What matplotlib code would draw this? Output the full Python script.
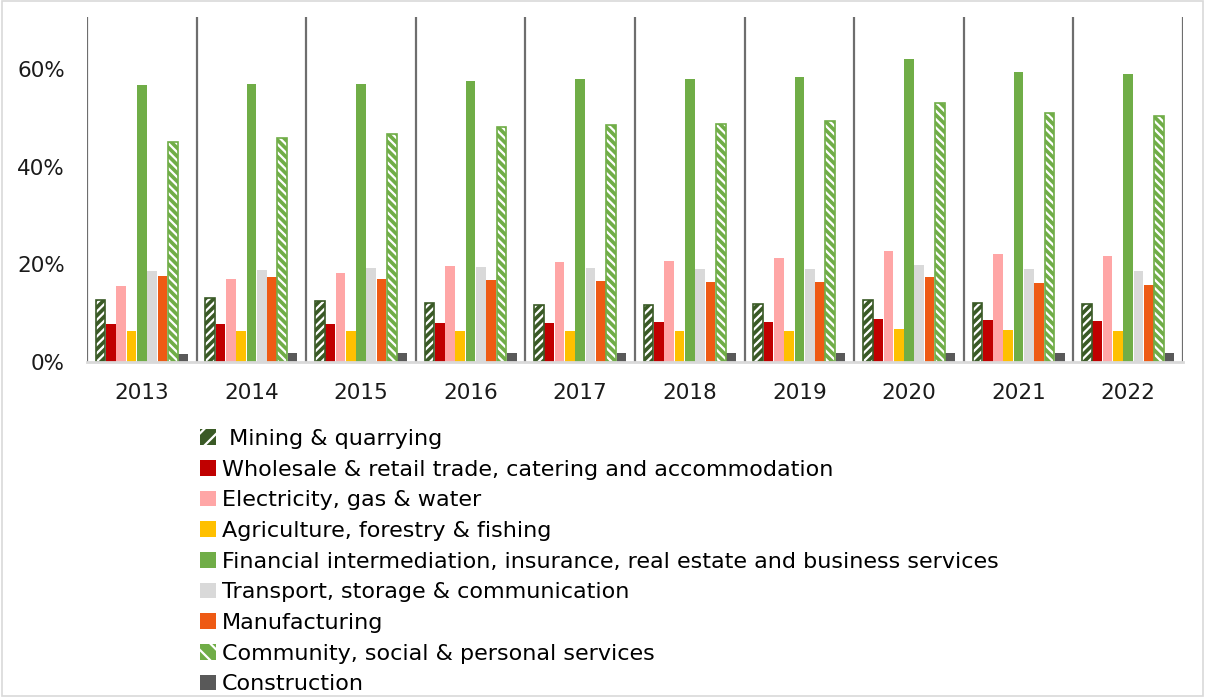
import matplotlib
matplotlib.use("Agg")
import matplotlib.pyplot as plt
import numpy as np
from matplotlib.patches import Rectangle, Patch
from matplotlib.ticker import FuncFormatter

years = ["2013", "2014", "2015", "2016", "2017", "2018", "2019", "2020", "2021", "2022"]

sectors = [
    " Mining & quarrying",
    "Wholesale & retail trade, catering and accommodation",
    "Electricity, gas & water",
    "Agriculture, forestry & fishing",
    "Financial intermediation, insurance, real estate and business services",
    "Transport, storage & communication",
    "Manufacturing",
    "Community, social & personal services",
    "Construction",
]

mining = [12.7, 13.0, 12.5, 12.0, 11.7, 11.7, 11.9, 12.7, 12.0, 11.8]
wholesale = [7.7, 7.7, 7.8, 8.0, 8.0, 8.2, 8.2, 8.9, 8.5, 8.4]
electricity = [15.6, 16.9, 18.3, 19.6, 20.5, 20.7, 21.2, 22.8, 22.0, 21.7]
agriculture = [6.3, 6.3, 6.3, 6.3, 6.3, 6.3, 6.3, 6.8, 6.6, 6.4]
financial = [56.6, 56.8, 56.9, 57.6, 57.9, 57.9, 58.4, 62.0, 59.4, 58.9]
transport = [18.6, 18.8, 19.2, 19.4, 19.3, 19.0, 19.0, 19.9, 19.0, 18.6]
manufacturing = [17.7, 17.3, 17.0, 16.8, 16.6, 16.4, 16.4, 17.3, 16.1, 15.8]
community = [45.0, 45.8, 46.7, 48.0, 48.6, 48.8, 49.3, 53.0, 50.9, 50.3]
construction = [1.6, 1.8, 1.8, 1.8, 1.8, 1.8, 1.8, 1.8, 1.8, 1.8]

series = [mining, wholesale, electricity, agriculture, financial,
          transport, manufacturing, community, construction]

colors = ["#3A5A26", "#C00000", "#FFA6A6", "#FFC000", "#70AD47",
          "#D9D9D9", "#EE5A14", "#70AD47", "#595959"]
hatches = ["////", None, None, None, None, None, None, "\\\\\\\\", None]

plt.rcParams["font.family"] = ["DejaVu Sans"]
plt.rcParams["hatch.linewidth"] = 1.6

fig = plt.figure(figsize=(12.05, 6.97), dpi=100)
ax = fig.add_axes([87 / 1205, 1 - 362 / 697, (1183 - 87) / 1205, (362 - 17) / 697])

x = np.arange(len(years))
n = len(series)
pitch = 0.094
width = 0.088
offsets = (np.arange(n) - (n - 1) / 2) * pitch

for vals, col, hat, off in zip(series, colors, hatches, offsets):
    if hat is None:
        ax.bar(x + off, vals, width, color=col, linewidth=0, zorder=3)
    else:
        # coloured bar with white diagonal stripes, then a coloured outline
        ax.bar(x + off, vals, width, facecolor=col, edgecolor="white",
               hatch=hat, linewidth=0, zorder=3)
        ax.bar(x + off, vals, width, fill=False, edgecolor=col,
               linewidth=1.2, zorder=4)

# group separators
for b in np.arange(len(years) + 1) - 0.5:
    ax.axvline(b, color="#6E6E6E", linewidth=1.6, zorder=2)

ax.set_xlim(-0.5, len(years) - 0.5)
ax.set_ylim(0, 70.6)
ax.set_yticks([0, 20, 40, 60])
ax.yaxis.set_major_formatter(FuncFormatter(lambda v, p: f"{v:.0f}%"))
ax.set_xticks(x)
ax.set_xticklabels(years)
ax.tick_params(axis="both", length=0, labelsize=15.5, colors="#1a1a1a")
ax.tick_params(axis="y", pad=16)
ax.tick_params(axis="x", pad=15)

for s in ["left", "right", "top"]:
    ax.spines[s].set_visible(False)
ax.spines["bottom"].set_color("#D9D9D9")
ax.spines["bottom"].set_linewidth(2)
ax.spines["bottom"].set_zorder(5)

handles = []
for col, hat in zip(colors, hatches):
    if hat is None:
        handles.append(Patch(facecolor=col, edgecolor=col, linewidth=0))
    else:
        handles.append(Patch(facecolor=col, edgecolor="white", hatch=hat[:2], linewidth=0))

fig.legend(handles, sectors, loc="upper left", bbox_to_anchor=(200 / 1205, 1 - 429 / 697),
           frameon=False, fontsize=16, handlelength=0.7, handleheight=0.7,
           handletextpad=0.3, labelspacing=0.48, borderaxespad=0, borderpad=0)

fig.patches.append(Rectangle((0.002, 0.002), 0.996, 0.996, transform=fig.transFigure,
                             fill=False, edgecolor="#D9D9D9", linewidth=1.2))

fig.savefig("out.png", dpi=100)
